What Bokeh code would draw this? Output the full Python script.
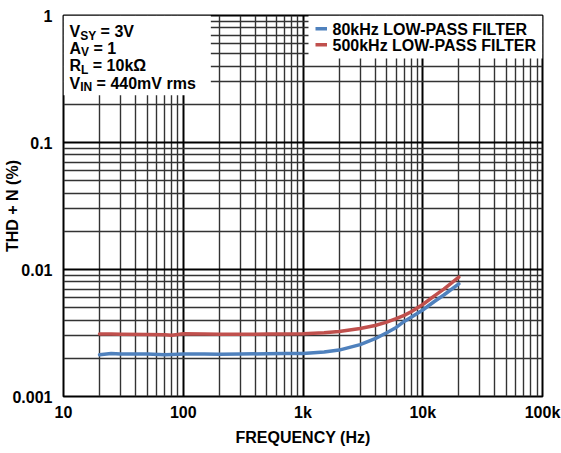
from bokeh.plotting import figure
from bokeh.models import Range1d, FixedTicker, Label, BoxAnnotation
from bokeh.embed import file_html
from bokeh.resources import INLINE

# ---------------- data ----------------
freq = [20, 25, 30, 50, 70, 80, 90, 100, 150, 200, 300, 500, 700, 1000, 1500,
        2000, 3000, 4000, 5000, 6000, 7000, 8000, 10000, 12500, 15000, 20000]
thd_80k = [0.00213, 0.00218, 0.00216, 0.00216, 0.00213, 0.00214, 0.00215,
           0.00216, 0.00216, 0.00215, 0.00216, 0.00217, 0.00218, 0.00218,
           0.00224, 0.00232, 0.00256, 0.00285, 0.00318, 0.00350, 0.00390,
           0.00420, 0.00480, 0.00560, 0.00630, 0.00770]
thd_500k = [0.00311, 0.00310, 0.00309, 0.00308, 0.00306, 0.00304, 0.00308,
            0.00312, 0.00311, 0.00309, 0.00309, 0.00310, 0.00311, 0.00312,
            0.00318, 0.00325, 0.00343, 0.00362, 0.00385, 0.00410, 0.00435,
            0.00465, 0.00530, 0.00620, 0.00700, 0.00870]

x_major = [10, 100, 1000, 10000, 100000]
x_labels = ["10", "100", "1k", "10k", "100k"]
y_major = [0.001, 0.01, 0.1, 1]
y_labels = ["0.001", "0.01", "0.1", "1"]
series_names = ["80kHz LOW-PASS FILTER", "500kHz LOW-PASS FILTER"]
series_colors = ["#4f81bd", "#c0504d"]
conditions = [("V", "SY", "= 3V"), ("A", "V", "= 1"),
              ("R", "L", "= 10kΩ"), ("V", "IN", "= 440mV rms")]

x_minor = [k * d for d in x_major[:-1] for k in range(2, 10)]
y_minor = [k * d for d in y_major[:-1] for k in range(2, 10)]

FONT = "Liberation Sans"
FS = "16px"
W, H = 561, 453
BL, BR, BT, BB = 63, 19, 15, 57
FRAME_H = H - BT - BB
TXT_OFF = 4  # baseline correction for screen-unit labels

p = figure(width=W, height=H, x_axis_type="log", y_axis_type="log",
           x_range=Range1d(10, 100000), y_range=Range1d(0.001, 1),
           output_backend="svg", toolbar_location=None,
           min_border_left=BL, min_border_right=BR,
           min_border_top=BT, min_border_bottom=BB)
p.background_fill_color = "white"
p.border_fill_color = "white"
p.outline_line_color = "black"
p.outline_line_width = 2

p.xaxis.ticker = FixedTicker(ticks=x_major, minor_ticks=x_minor)
p.yaxis.ticker = FixedTicker(ticks=y_major, minor_ticks=y_minor)
p.xaxis.major_label_overrides = dict(zip(x_major, x_labels))
p.yaxis.major_label_overrides = dict(zip(y_major, y_labels))

for ax in (p.xaxis, p.yaxis):
    ax.axis_line_color = None
    ax.major_tick_line_color = None
    ax.minor_tick_line_color = None
    ax.major_tick_out = 0
    ax.major_tick_in = 0
    ax.minor_tick_out = 0
    ax.minor_tick_in = 0
    ax.major_label_text_font = FONT
    ax.major_label_text_font_style = "bold"
    ax.major_label_text_font_size = FS
    ax.major_label_text_color = "black"
    ax.axis_label_text_font = FONT
    ax.axis_label_text_font_style = "bold"
    ax.axis_label_text_font_size = FS
    ax.axis_label_text_color = "black"
p.yaxis.major_label_standoff = 11
p.xaxis.major_label_standoff = 7
p.xaxis.axis_label = "FREQUENCY (Hz)"
p.xaxis.axis_label_standoff = 5
p.yaxis.axis_label = "THD + N (%)"
p.yaxis.axis_label_standoff = -12

for g in (p.xgrid, p.ygrid):
    g.grid_line_color = "black"
    g.grid_line_width = 2
    g.grid_line_alpha = 1
    g.minor_grid_line_color = "#333333"
    g.minor_grid_line_width = 1.4

# white box behind the conditions text
p.add_layout(BoxAnnotation(left=None, top=None, right=170, bottom=0.235,
                           fill_color="white", fill_alpha=1,
                           line_color=None, level="underlay"))
# white box behind the legend
p.add_layout(BoxAnnotation(left=245, left_units="screen", right=None, top=None,
                           bottom=FRAME_H - 43, bottom_units="screen",
                           fill_color="white", fill_alpha=1,
                           line_color=None, level="underlay"))

for f_vals, col in zip([thd_80k, thd_500k], series_colors):
    p.line(freq, f_vals, line_color=col, line_width=3.5,
           line_join="round", line_cap="round")

# legend (swatch + label), positions measured from frame top
swatch_centers = [13.3, 29.3]
label_baselines = [18.3, 34.0]
for name, col, sc, lb in zip(series_names, series_colors, swatch_centers,
                             label_baselines):
    yc = FRAME_H - sc
    p.add_layout(BoxAnnotation(left=252, right=263.5, top=yc + 1.7,
                               bottom=yc - 1.7, left_units="screen",
                               right_units="screen", top_units="screen",
                               bottom_units="screen", fill_color=col,
                               fill_alpha=1, line_color=None))
    p.add_layout(Label(x=269, y=FRAME_H - (lb - TXT_OFF), x_units="screen",
                       y_units="screen", text=name, text_font=FONT,
                       text_font_style="bold", text_font_size=FS,
                       text_color="black", text_baseline="alphabetic"))

# conditions text with subscripts
main_w = {"V": 10.7, "A": 11.6, "R": 11.6}
sub_w = {"SY": 16, "V": 8, "L": 7.3, "IN": 12}
space_w = 4.4
baselines = [20, 36.7, 54.3, 71.7]
x0 = 6
for (m, s, rest), b in zip(conditions, baselines):
    y = FRAME_H - (b - TXT_OFF)
    p.add_layout(Label(x=x0, y=y, x_units="screen", y_units="screen", text=m,
                       text_font=FONT, text_font_style="bold",
                       text_font_size=FS, text_color="black",
                       text_baseline="alphabetic"))
    xs = x0 + main_w[m]
    p.add_layout(Label(x=xs, y=y - 4, x_units="screen", y_units="screen", text=s,
                       text_font=FONT, text_font_style="bold",
                       text_font_size="12px", text_color="black",
                       text_baseline="alphabetic"))
    p.add_layout(Label(x=xs + sub_w[s] + space_w, y=y, x_units="screen",
                       y_units="screen", text=rest, text_font=FONT,
                       text_font_style="bold", text_font_size=FS,
                       text_color="black", text_baseline="alphabetic"))

open("out.html", "w").write(file_html(p, INLINE))
